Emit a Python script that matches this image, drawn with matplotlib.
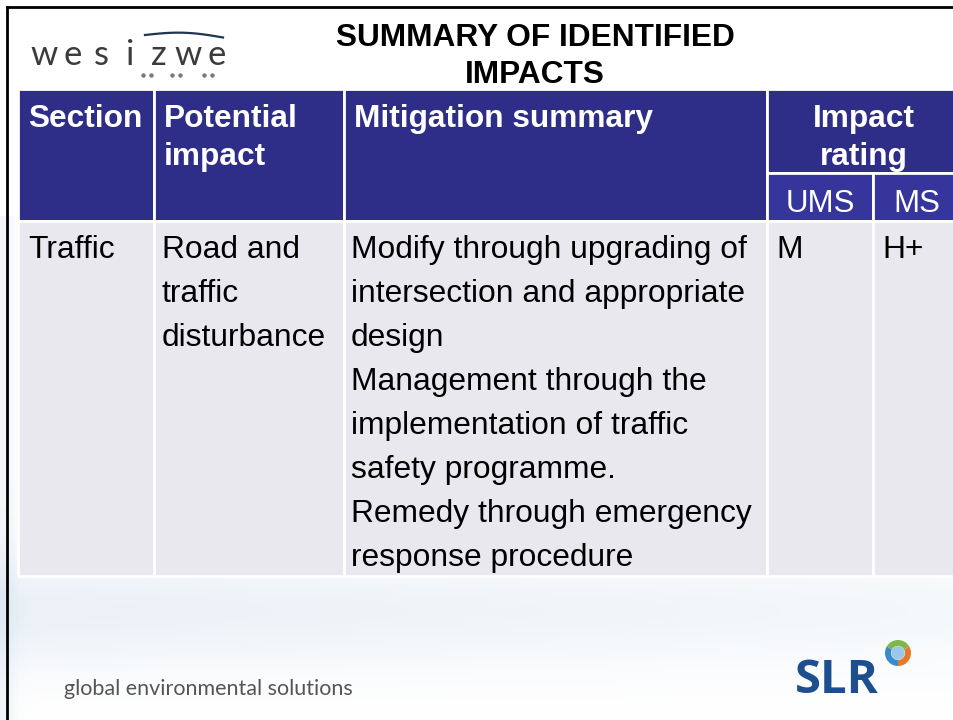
import numpy as np
import matplotlib.pyplot as plt
from matplotlib.patches import Rectangle, Wedge

plt.rcParams['font.family'] = ['Liberation Sans', 'DejaVu Sans']

# slide text / table content
title_lines = ["SUMMARY OF IDENTIFIED", "IMPACTS"]
header_cols = ["Section", "Potential\nimpact", "Mitigation summary", "Impact\nrating"]
sub_cols = ["UMS", "MS"]
section_col = ["Traffic"]
impact_col = ["Road and", "traffic", "disturbance"]
mitigation_col = [
    "Modify through upgrading of",
    "intersection and appropriate",
    "design",
    "Management through the",
    "implementation of traffic",
    "safety programme.",
    "Remedy through emergency",
    "response procedure",
]
ratings = ["M", "H+"]
footer_text = "global environmental solutions"

W, H = 954, 720
fig = plt.figure(figsize=(W / 100, H / 100), dpi=100)
ax = fig.add_axes([0, 0, 1, 1])
ax.set_xlim(0, W)
ax.set_ylim(H, 0)
ax.axis('off')

# soft background, a little blue haze under the table
yy = np.linspace(0, 1, 200)[:, None]
xx = np.linspace(0, 1, 200)[None, :]
haze = np.exp(-((yy - 0.85) / 0.08) ** 2) * (0.5 + 0.5 * (1 - xx))
haze += 0.6 * np.exp(-(xx / 0.015) ** 2) * (yy > 0.3)
bg = np.ones((200, 200, 3))
bg[..., 0] -= 0.08 * haze
bg[..., 1] -= 0.055 * haze
bg[..., 2] -= 0.03 * haze
ax.imshow(bg, extent=[0, W, H, 0], aspect='auto', zorder=0)

# slide frame (left + top)
ax.plot([7, 7], [H, 7], color='black', lw=2, zorder=5)
ax.plot([7, W], [7, 7], color='black', lw=2, zorder=5)

# title
for i, line in enumerate(title_lines):
    ax.text(535, 46 + i * 37, line, ha='center', va='baseline',
            fontsize=22.8, fontweight='bold', color='black')

# wesizwe logo
for i, ch in enumerate("wesizwe"):
    ax.text(44 + i * 28.8, 65, ch, ha='center', va='baseline', fontsize=25,
            color='#3c3c3c', family=['Lato', 'DejaVu Sans'])
wx = np.linspace(145, 223, 60)
ax.plot(wx, 35 - 3.5 * np.sin((wx - 145) / 78 * np.pi) + 2.5 * (wx - 145) / 78,
        color='#1f3550', lw=1.6)
ax.plot([143, 151, 172, 180, 204, 212], [75] * 6, ls='none', marker='o',
        ms=3.2, color='#7a7a7a', mec='none')

# table geometry
xs = [18, 154, 344, 767, 873, 962]
y_head, y_sub, y_body, y_end = 89, 173, 221, 576
head_c = '#2e2e88'
sub_c = '#35359c'
body_c = '#e8e8ee'

for i in range(3):
    ax.add_patch(Rectangle((xs[i], y_head), xs[i + 1] - xs[i], y_body - y_head,
                           facecolor=head_c, edgecolor='white', lw=2, zorder=2))
ax.add_patch(Rectangle((xs[3], y_head), xs[5] - xs[3], y_sub - y_head,
                       facecolor=head_c, edgecolor='white', lw=2, zorder=2))
for i in range(2):
    ax.add_patch(Rectangle((xs[3 + i], y_sub), xs[4 + i] - xs[3 + i], y_body - y_sub,
                           facecolor=sub_c, edgecolor='white', lw=2, zorder=2))
for i in range(5):
    ax.add_patch(Rectangle((xs[i], y_body), xs[i + 1] - xs[i], y_end - y_body,
                           facecolor=body_c, edgecolor='white', lw=2, zorder=2))

# header text
hdr_kw = dict(fontsize=22.8, fontweight='bold', color='white', va='baseline',
              zorder=3)
for i in range(3):
    for j, line in enumerate(header_cols[i].split("\n")):
        ax.text(xs[i] + 10, 127 + j * 38, line, ha='left', **hdr_kw)
for j, line in enumerate(header_cols[3].split("\n")):
    ax.text(864, 127 + j * 38, line, ha='center', **hdr_kw)
for i, lab in enumerate(sub_cols):
    ax.text([820, 917][i], 212, lab, ha='center', va='baseline', fontsize=22.5,
            color='white', zorder=3)

# body text
body_kw = dict(fontsize=22.9, color='black', va='baseline', ha='left', zorder=3)
line_h = 44
for col, x0 in [(section_col, 28), (impact_col, 162), (mitigation_col, 351)]:
    for j, line in enumerate(col):
        ax.text(x0, 258 + j * line_h, line, **body_kw)
for i, r in enumerate(ratings):
    ax.text([776, 882][i], 258, r, **body_kw)

# footer
ax.text(64, 695, footer_text, ha='left', va='baseline', fontsize=15.5,
        color='#555555', family=['Lato', 'DejaVu Sans'])

# SLR logo
ax.text(795, 693, "SLR", ha='left', va='baseline', fontsize=34, fontweight='bold',
        color='#1d4f8f', family=['Open Sans', 'DejaVu Sans'])
gx, gy = 898, 653
for a0, a1, c in [(-30, 90, '#e8782a'), (90, 210, '#3a8ad0'), (210, 330, '#7fb84a')]:
    ax.add_patch(Wedge((gx, gy), 13, a0, a1, width=6, facecolor=c, zorder=3))
ax.add_patch(plt.Circle((gx, gy), 6, color='#9cc7e8', zorder=3))

fig.savefig('out.png', dpi=100)
